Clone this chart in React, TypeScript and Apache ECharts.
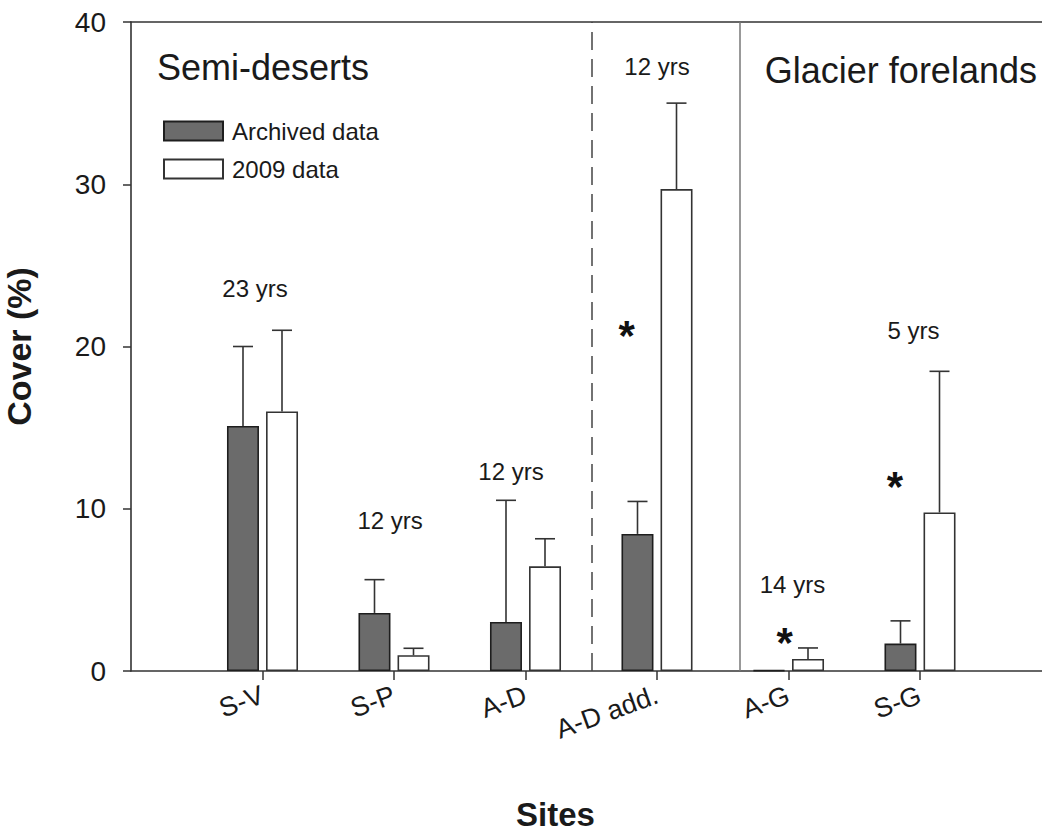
import React, { useEffect, useRef } from "react";
import * as echarts from "echarts";

const sites = ["S-V", "S-P", "A-D", "A-D add.", "A-G", "S-G"];
const archived = [15.1, 3.58, 3.02, 8.45, 0.05, 1.69];
const archivedErr = [4.9, 2.05, 7.5, 2.0, 0, 1.4];
const recent = [16.0, 0.97, 6.45, 29.7, 0.74, 9.77];
const recentErr = [5.0, 0.43, 1.7, 5.3, 0.68, 8.7];
const yTicks = { min: 0, max: 40, interval: 10 };
const dividers = [3.5, 4.63];
const yearLabels = [
  { x: 0.943, y: 23.6, text: "23 yrs" },
  { x: 1.97, y: 9.29, text: "12 yrs" },
  { x: 2.89, y: 12.27, text: "12 yrs" },
  { x: 4.0, y: 37.24, text: "12 yrs" },
  { x: 5.03, y: 5.35, text: "14 yrs" },
  { x: 5.95, y: 21.0, text: "5 yrs" },
];
const asterisks = [
  { x: 3.77, y: 21.31 },
  { x: 4.97, y: 2.4 },
  { x: 5.81, y: 11.96 },
];
const sections = [
  { x: 0.198, y: 37.22, text: "Semi-deserts" },
  { x: 4.82, y: 37.03, text: "Glacier forelands" },
];

const FONT = "'Liberation Sans', Arial, Helvetica, sans-serif";
const BAR_W = 32;
const BAR_OFF = 19.5;
const INK = "#1a1a1a";

export default function App() {
  const ref = useRef<HTMLDivElement>(null);
  useEffect(() => {
    if (!ref.current) return;
    const chart = echarts.init(ref.current, undefined, { renderer: "svg" });
    const cats = ["", ...sites, ""];
    const pad = (a: number[]) => [null, ...a, null];
    const errData = (means: number[], errs: number[]) =>
      means.map((m, i) => [i + 1, m, m + errs[i], errs[i]]);
    const errSeries = (name: string, means: number[], errs: number[], off: number) => ({
      type: "custom",
      name: name + " err",
      xAxisIndex: 0,
      yAxisIndex: 0,
      z: 5,
      silent: true,
      data: errData(means, errs),
      renderItem: (params: any, api: any) => {
        const err = api.value(3);
        if (!(err > 0)) return null;
        const p0 = api.coord([api.value(0), api.value(1)]);
        const p1 = api.coord([api.value(0), api.value(2)]);
        const x = p0[0] + off;
        const style = { stroke: "#333", lineWidth: 1.6 };
        return {
          type: "group",
          children: [
            { type: "line", shape: { x1: x, y1: p0[1], x2: x, y2: p1[1] }, style },
            { type: "line", shape: { x1: x - 10, y1: p1[1], x2: x + 10, y2: p1[1] }, style },
          ],
        };
      },
    });
    const textLabel = (extra: any) => ({
      show: true,
      position: "inside",
      color: INK,
      textBorderWidth: 0,
      opacity: 1,
      fontFamily: FONT,
      ...extra,
    });

    chart.setOption({
      animation: false,
      textStyle: { fontFamily: FONT },
      grid: { left: 131, top: 22, width: 920.5, height: 649, outerBoundsMode: "none", containLabel: false },
      legend: {
        orient: "vertical",
        left: 158,
        top: 114,
        itemWidth: 59,
        itemHeight: 19,
        itemGap: 14,
        icon: "rect",
        data: ["Archived data", "2009 data"],
        textStyle: { fontSize: 24, color: INK, fontFamily: FONT, padding: [0, 0, 0, 4] },
      },
      xAxis: [
        {
          type: "category",
          data: cats,
          boundaryGap: false,
          axisLine: { lineStyle: { color: "#333", width: 1.6 } },
          axisTick: {
            show: true,
            length: 9,
            interval: (i: number) => i >= 1 && i <= sites.length,
            lineStyle: { color: "#333", width: 1.5 },
          },
          axisLabel: {
            interval: 0,
            rotate: 20,
            fontSize: 27,
            margin: 23,
            color: INK,
            fontFamily: FONT,
          },
          splitLine: { show: false },
        },
        {
          type: "value",
          position: "top",
          min: 0,
          max: cats.length - 1,
          axisLine: { show: true, onZero: false, lineStyle: { color: "#333", width: 1.6 } },
          axisTick: { show: false },
          axisLabel: { show: false },
          splitLine: { show: false },
        },
      ],
      yAxis: {
        type: "value",
        min: yTicks.min,
        max: yTicks.max,
        interval: yTicks.interval,
        name: "Cover (%)",
        nameLocation: "middle",
        nameGap: 95,
        nameTextStyle: { fontSize: 34, fontWeight: "bold", color: INK, fontFamily: FONT },
        axisLine: { show: true, lineStyle: { color: "#333", width: 1.6 } },
        axisTick: { show: true, length: 8, lineStyle: { color: "#333", width: 1.5 } },
        axisLabel: { fontSize: 28, margin: 25, color: INK, fontFamily: FONT },
        splitLine: { show: false },
      },
      graphic: [
        {
          type: "text",
          left: 516,
          top: 798,
          style: { text: "Sites", fontSize: 33, fontWeight: "bold", fill: INK, fontFamily: FONT },
        },
      ],
      series: [
        {
          type: "bar",
          name: "Archived data",
          data: pad(archived),
          barWidth: BAR_W,
          barGap: "22%",
          itemStyle: { color: "#6b6b6b", borderColor: "#1e1e1e", borderWidth: 1.6 },
        },
        {
          type: "bar",
          name: "2009 data",
          data: pad(recent),
          barWidth: BAR_W,
          barGap: "22%",
          itemStyle: { color: "#ffffff", borderColor: "#333", borderWidth: 1.6 },
        },
        errSeries("Archived data", archived, archivedErr, -BAR_OFF),
        errSeries("2009 data", recent, recentErr, BAR_OFF),
        {
          type: "scatter",
          name: "years",
          xAxisIndex: 1,
          yAxisIndex: 0,
          symbolSize: 1,
          itemStyle: { color: "rgba(0,0,0,0)" },
          silent: true,
          data: yearLabels.map((d) => ({ value: [d.x, d.y], name: d.text })),
          label: textLabel({ formatter: (p: any) => p.name, fontSize: 24 }),
          markLine: {
            silent: true,
            symbol: "none",
            label: { show: false },
            data: [
              { xAxis: dividers[0], lineStyle: { type: [18, 9], color: "#444", width: 1.5 } },
              { xAxis: dividers[1], lineStyle: { type: "solid", color: "#777", width: 1.5 } },
            ],
          },
        },
        {
          type: "scatter",
          name: "stars",
          xAxisIndex: 1,
          yAxisIndex: 0,
          symbolSize: 1,
          itemStyle: { color: "rgba(0,0,0,0)" },
          silent: true,
          data: asterisks.map((d) => ({ value: [d.x, d.y], name: "*" })),
          label: textLabel({ offset: [0, 10], formatter: "*", fontSize: 42, fontWeight: "bold", color: "#111" }),
        },
        {
          type: "scatter",
          name: "sections",
          xAxisIndex: 1,
          yAxisIndex: 0,
          symbolSize: 1,
          itemStyle: { color: "rgba(0,0,0,0)" },
          silent: true,
          data: sections.map((d) => ({ value: [d.x, d.y], name: d.text })),
          label: textLabel({ align: "left", formatter: (p: any) => p.name, fontSize: 36 }),
        },
      ],
    });
    return () => chart.dispose();
  }, []);
  return (
    <div
      ref={ref}
      style={{ position: "fixed", left: 0, top: 0, width: 1042, height: 834, background: "#fff" }}
    />
  );
}
